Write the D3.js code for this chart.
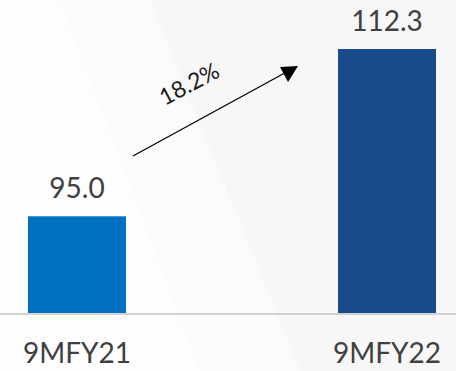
<!DOCTYPE html>
<html>
<head>
<meta charset="utf-8">
<script src="https://cdn.jsdelivr.net/npm/d3@7"></script>
<style>
  body { margin: 0; background: #fff; }
  svg { display: block; font-family: "Lato", "Open Sans", sans-serif; }
</style>
</head>
<body>
<div id="chart"></div>
<script>
var canvasWidth = 456;
var canvasHeight = 371;

// data
var categories = ["9MFY21", "9MFY22"];
var values = [95.0, 112.3];
var valueLabels = ["95.0", "112.3"];
var barColors = ["#0070c0", "#174b8a"];
var growthLabel = "18.2%";

var svg = d3.select("#chart").append("svg")
    .attr("width", canvasWidth)
    .attr("height", canvasHeight);

/*faint background shapes*/
svg.append("rect")
    .attr("width", canvasWidth)
    .attr("height", canvasHeight)
    .attr("fill", "#f7f7f7");
svg.append("path")
    .attr("d", "M0,0 L150,0 L300,371 L0,371 Z")
    .attr("fill", "#fbfbfb");
svg.append("path")
    .attr("d", "M0,0 L60,0 L200,371 L0,371 Z")
    .attr("fill", "#fdfdfd");

var xScale = d3.scaleBand()
    .domain(categories)
    .range([28, 436])
    .paddingInner(0.684)
    .paddingOuter(0);

var yScale = d3.scaleLinear()
    .domain([85, 112.3])
    .range([313, 49]);

/*bars*/
svg.selectAll(".bar")
    .data(categories)
    .join("rect")
    .attr("class", "bar")
    .attr("x", function(d) { return xScale(d); })
    .attr("width", xScale.bandwidth())
    .attr("y", function(d, i) { return yScale(values[i]); })
    .attr("height", function(d, i) { return yScale(85) - yScale(values[i]); })
    .attr("fill", function(d, i) { return barColors[i]; });

/*baseline*/
svg.append("line")
    .attr("x1", 0)
    .attr("x2", canvasWidth)
    .attr("y1", yScale(85) + 1)
    .attr("y2", yScale(85) + 1)
    .attr("stroke", "#d2d2d2")
    .attr("stroke-width", 2);

/*value labels*/
svg.selectAll(".val")
    .data(categories)
    .join("text")
    .attr("class", "val")
    .attr("x", function(d) { return xScale(d) + xScale.bandwidth() / 2; })
    .attr("y", function(d, i) { return yScale(values[i]) - 18; })
    .attr("text-anchor", "middle")
    .attr("font-size", 28)
    .attr("fill", "#404040")
    .text(function(d, i) { return valueLabels[i]; });

/*category labels*/
svg.selectAll(".cat")
    .data(categories)
    .join("text")
    .attr("class", "cat")
    .attr("x", function(d) { return xScale(d) + xScale.bandwidth() / 2; })
    .attr("y", 363)
    .attr("text-anchor", "middle")
    .attr("font-size", 28)
    .attr("fill", "#404040")
    .text(function(d) { return d; });

/*growth arrow*/
var x0 = xScale(categories[0]) + xScale.bandwidth() + 7;
var x1 = xScale(categories[1]) - 40;
svg.append("line")
    .attr("x1", x0)
    .attr("y1", 156)
    .attr("x2", x1 - 6)
    .attr("y2", 69)
    .attr("stroke", "#000")
    .attr("stroke-width", 1.3);
svg.append("path")
    .attr("d", "M" + x1 + ",66 L" + (x1 - 18) + ",67 L" + (x1 - 10) + ",82 Z")
    .attr("fill", "#000");

svg.append("text")
    .attr("transform", "translate(193,91) rotate(-28)")
    .attr("text-anchor", "middle")
    .attr("font-size", 23)
    .attr("fill", "#1a1a1a")
    .text(growthLabel);
</script>
</body>
</html>
